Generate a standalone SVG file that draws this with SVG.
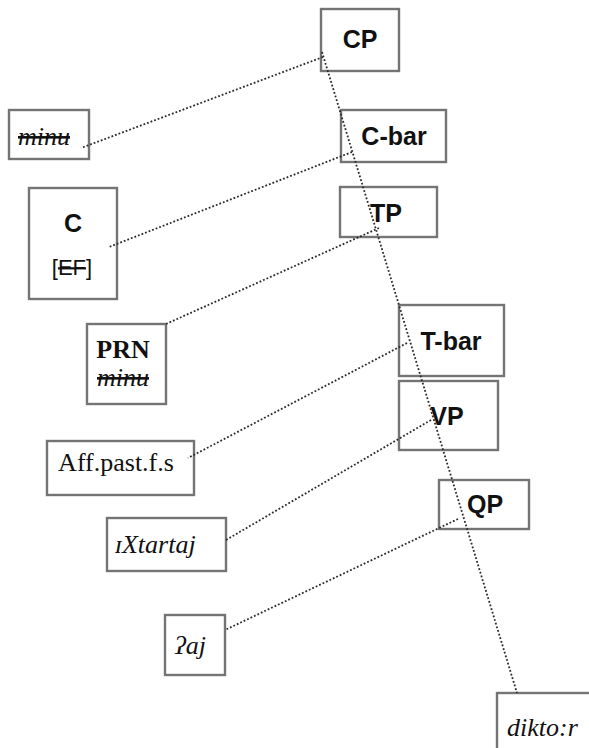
<svg xmlns="http://www.w3.org/2000/svg" width="589" height="748" viewBox="0 0 589 748">
  <style>
    .box { fill: #ffffff; stroke: #747474; stroke-width: 2.4; }
    .cat { font-family: "Liberation Sans", Arial, sans-serif; font-weight: bold; font-size: 25px; fill: #111; text-anchor: middle; }
    .feat { font-family: "Liberation Sans", Arial, sans-serif; font-size: 22px; fill: #111; text-anchor: middle; }
    .rom { font-family: "Liberation Serif", "DejaVu Serif", serif; font-size: 26px; fill: #111; }
    .it { font-family: "Liberation Serif", "DejaVu Serif", serif; font-style: italic; font-size: 26px; fill: #111; }
    .struck { text-decoration: line-through; }
    .link { fill: none; stroke: #2a2a2a; stroke-width: 1.8; stroke-dasharray: 1.8 2; }
  </style>

  <!-- nodes -->
  <g id="cp"><rect class="box" x="321" y="9" width="78" height="62"/><text class="cat" x="360" y="48">CP</text></g>
  <g id="minu-top"><rect class="box" x="9" y="110" width="80" height="49"/><text class="it struck" x="18" y="145">minu</text></g>
  <g id="cbar"><rect class="box" x="341" y="110" width="105" height="52"/><text class="cat" x="394" y="145">C-bar</text></g>
  <g id="c"><rect class="box" x="29" y="188" width="88" height="111"/><text class="cat" x="73" y="232">C</text><text class="feat" x="72" y="275">[<tspan class="struck">EF</tspan>]</text></g>
  <g id="tp"><rect class="box" x="340" y="187" width="97" height="50"/><text class="cat" x="386" y="222">TP</text></g>
  <g id="prn"><rect class="box" x="87" y="324" width="79" height="80"/><text class="rom" x="123" y="358" font-weight="bold" text-anchor="middle">PRN</text><text class="it struck" x="123" y="386" text-anchor="middle">minu</text></g>
  <g id="tbar"><rect class="box" x="399" y="305" width="105" height="71"/><text class="cat" x="451" y="350">T-bar</text></g>
  <g id="vp"><rect class="box" x="399" y="381" width="99" height="69"/><text class="cat" x="447" y="425">VP</text></g>
  <g id="aff"><rect class="box" x="47" y="441" width="147" height="54"/><text class="rom" x="116" y="471" text-anchor="middle">Aff.past.f.s</text></g>
  <g id="qp"><rect class="box" x="439" y="480" width="90" height="49"/><text class="cat" x="485" y="513">QP</text></g>
  <g id="ixtartaj"><rect class="box" x="107" y="518" width="119" height="53"/><text class="it" x="115" y="553">ɪXtartaj</text></g>
  <g id="aj"><rect class="box" x="165" y="615" width="60" height="60"/><text class="it" x="175" y="654">ʔaj</text></g>
  <g id="diktor"><rect class="box" x="497" y="693" width="100" height="70"/><text class="it" x="507" y="736">dikto:r</text></g>

  <!-- connectors -->
  <g id="connectors">
    <line class="link" x1="322" y1="52" x2="517" y2="693"/>
    <line class="link" x1="323" y1="57" x2="81" y2="148"/>
    <line class="link" x1="352" y1="152" x2="109" y2="247"/>
    <line class="link" x1="379" y1="228" x2="166" y2="324"/>
    <line class="link" x1="407" y1="343" x2="188" y2="458"/>
    <line class="link" x1="431" y1="420" x2="226" y2="540"/>
    <line class="link" x1="458" y1="519" x2="225" y2="630"/>
  </g>
</svg>
